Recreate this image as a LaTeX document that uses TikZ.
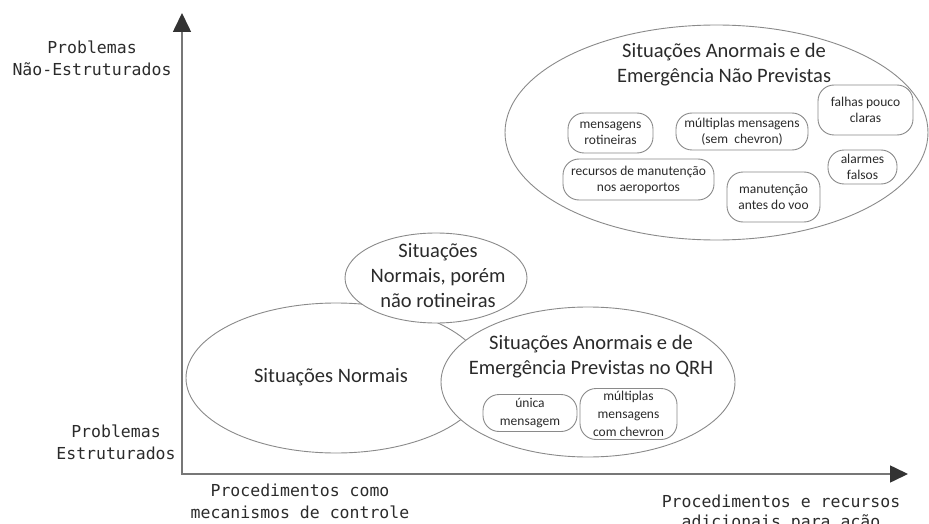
\documentclass[tikz,border=0pt]{standalone}
\usepackage{fontspec}
\setmainfont{Carlito}
\newfontfamily\axisfont{DejaVu Sans Mono}
\usetikzlibrary{arrows.meta,shapes.geometric}

\definecolor{inkgray}{HTML}{2B2B2B}
\definecolor{linegray}{HTML}{8A8A8A}
\definecolor{axisgray}{HTML}{777777}
\definecolor{tipgray}{HTML}{333333}

\begin{document}
\begin{tikzpicture}[x=1pt,y=-1pt,
  region/.style={draw=linegray, line width=0.9pt, fill=white, ellipse, inner sep=0pt},
  title/.style={align=center, text=inkgray, font=\fontsize{20.5}{25}\selectfont},
  pill/.style={draw=linegray, line width=0.9pt, fill=white, rounded corners=16pt,
    inner sep=0pt, align=center, text=inkgray, font=\fontsize{13.5}{16}\selectfont},
  pillqrh/.style={pill, font=\fontsize{13.5}{18}\selectfont},
  axislabel/.style={align=center, text=inkgray, font=\axisfont\fontsize{16.5}{22}\selectfont},
  axis/.style={draw=axisgray, line width=1.6pt},
  tip/.style={Triangle[length=18pt, width=17pt, color=tipgray]}
]
\useasboundingbox (0,0) rectangle (929,524);

% axes
\coordinate (origin) at (182,474);
\coordinate (ytop) at (182,13);
\coordinate (xend) at (908,474);
\draw[axis, {Triangle[length=19pt, width=18pt, color=tipgray]}-{Triangle[length=18pt, width=17pt, color=tipgray]}]
  (ytop) |- (xend);

% axis labels
\node[axislabel] (unstructured) at (92,58.5) {Problemas\\Não-Estruturados};
\node[axislabel] (structured) at (116,442) {Problemas\\Estruturados};
\node[axislabel] (control) at (300,501) {Procedimentos como\\mecanismos de controle};
\node[axislabel, font=\axisfont\fontsize{16.5}{20}\selectfont] (action) at (781,512.5)
  {Procedimentos e recursos\\adicionais para ação};

% normal situations, then the overlapping regions on top
\node[region, minimum width=300, minimum height=150] (normal) at (336,378) {};
\node[title] (normaltext) at (331,377) {Situações Normais};

\node[region, minimum width=182, minimum height=90] (nonroutine) at (436,278) {};
\node[title] (nonroutinetext) at (438,276) {Situações\\Normais, porém\\não rotineiras};

\node[region, minimum width=294, minimum height=150] (qrh) at (588,382) {};
\node[title] (qrhtext) at (591,357) {Situações Anormais e de\\Emergência Previstas no QRH};

\node[pillqrh, minimum width=94, minimum height=37] (single) at (530,413) {única\\mensagem};
\node[pillqrh, minimum width=97, minimum height=51] (chevron) at (628.5,414) {múltiplas\\mensagens\\com chevron};

% unforeseen abnormal and emergency situations
\node[region, minimum width=423, minimum height=215] (unforeseen) at (716.5,132.5) {};
\node[title] (unforeseentext) at (724,64.5) {Situações Anormais e de\\Emergência Não Previstas};

\node[pill, minimum width=85, minimum height=40] (routine) at (610.5,133) {mensagens\\rotineiras};
\node[pill, minimum width=132, minimum height=37] (multiple) at (742,131.5) {múltiplas mensagens\\(sem\ \ chevron)};
\node[pill, minimum width=95, minimum height=50] (unclear) at (865.5,110) {falhas pouco\\claras};
\node[pill, minimum width=151, minimum height=41] (airports) at (638.5,179.5) {recursos de manutenção\\nos aeroportos};
\node[pill, minimum width=93, minimum height=50] (preflight) at (773.5,197) {manutenção\\antes do voo};
\node[pill, minimum width=69, minimum height=34] (falsealarm) at (862.5,167) {alarmes\\falsos};
\end{tikzpicture}
\end{document}
